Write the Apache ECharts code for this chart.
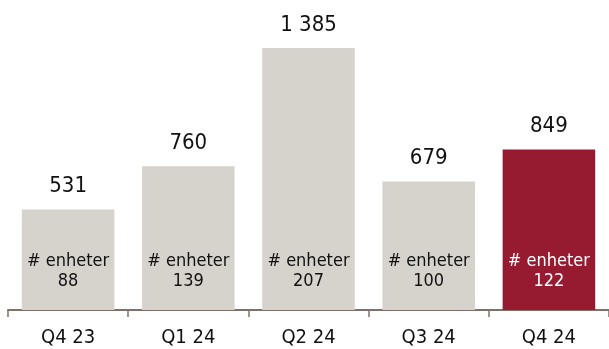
<!DOCTYPE html>
<html>
<head>
<meta charset="utf-8">
<script src="https://cdn.jsdelivr.net/npm/echarts@6/dist/echarts.min.js"></script>
<style>
  html, body { margin: 0; padding: 0; background: #fff; }
  #chart { width: 609px; height: 349px; }
</style>
</head>
<body>
<div id="chart"></div>
<script>
// Quarterly volumes with number of units per quarter
const quarters = ['Q4 23', 'Q1 24', 'Q2 24', 'Q3 24', 'Q4 24'];
const volumes = [531, 760, 1385, 679, 849];
const units = [88, 139, 207, 100, 122];
const unitLabel = '# enheter';

const grey = '#D6D2CC';
const red = '#961B30';
const textFont = 'DejaVu Sans Condensed';

const fmt = v => String(v).replace(/\B(?=(\d{3})+(?!\d))/g, ' ');

const chart = echarts.init(document.getElementById('chart'), null, { renderer: 'canvas' });

chart.setOption({
  animation: false,
  grid: { left: 8, right: -1, top: 48, bottom: 39, containLabel: false },
  xAxis: {
    type: 'category',
    data: quarters,
    axisLine: { lineStyle: { color: '#7F7169', width: 2 } },
    axisTick: { show: true, length: 7, lineStyle: { color: '#7F7169', width: 1.5 } },
    axisLabel: { color: '#111', fontFamily: textFont, fontSize: 20, margin: 18 }
  },
  yAxis: {
    type: 'value',
    min: 0,
    max: 1385,
    show: false,
    splitLine: { show: false }
  },
  series: [
    {
      type: 'bar',
      barWidth: '77%',
      data: volumes.map((v, i) => ({
        value: v,
        itemStyle: { color: i === volumes.length - 1 ? red : grey }
      })),
      label: {
        show: true,
        position: 'top',
        distance: 12,
        color: '#111',
        fontFamily: textFont,
        fontSize: 22,
        formatter: p => fmt(p.value)
      }
    },
    {
      // transparent overlay carrying the unit-count caption inside each bar
      type: 'bar',
      barWidth: '77%',
      barGap: '-100%',
      silent: true,
      data: volumes.map((v, i) => ({
        value: v,
        label: { color: i === volumes.length - 1 ? '#fff' : '#111' }
      })),
      itemStyle: { color: 'rgba(0,0,0,0)' },
      label: {
        show: true,
        position: 'insideBottom',
        distance: 19,
        fontFamily: textFont,
        fontSize: 18,
        lineHeight: 20,
        formatter: p => unitLabel + '\n' + units[p.dataIndex]
      }
    }
  ]
});
</script>
</body>
</html>
